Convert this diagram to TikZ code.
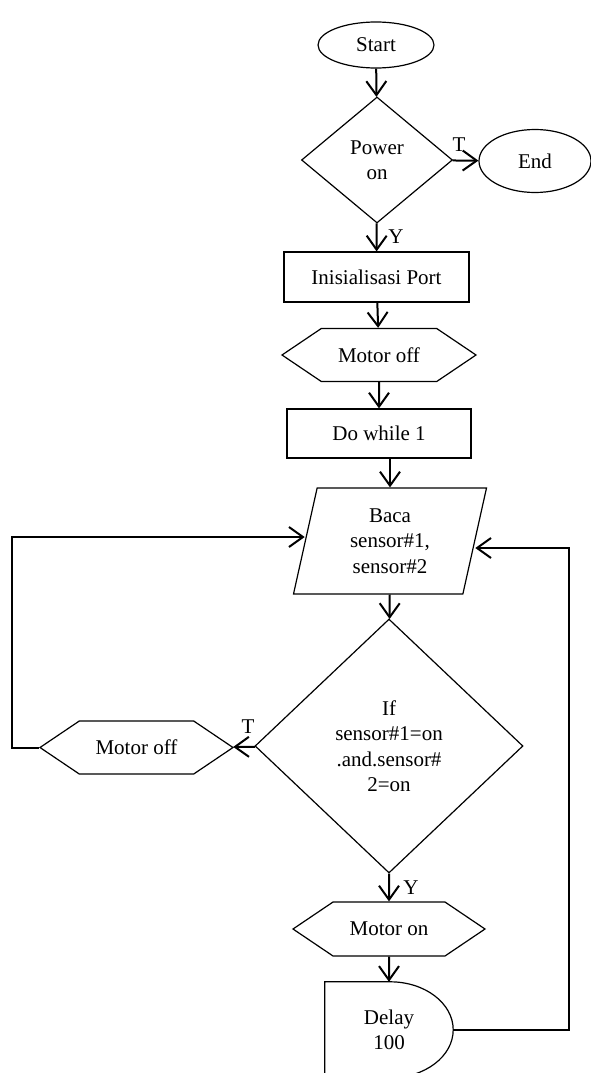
\documentclass[tikz,border=0pt]{standalone}
\usepackage{fontspec}
\setmainfont{Liberation Serif}
\usepackage{tikz}
\usetikzlibrary{shapes, shapes.geometric, shapes.symbols, arrows.meta, positioning}
\tikzstyle{term} = [ellipse, draw, line width=1.2pt, inner sep=0pt]
\tikzstyle{dec} = [diamond, draw, line width=1.2pt, inner sep=0pt, align=center]
\tikzstyle{proc} = [rectangle, draw, line width=1.2pt, inner sep=0pt]
\tikzstyle{prep} = [signal, signal to=west and east, signal pointer angle=68, draw, line width=1.2pt, inner sep=0pt]
\tikzstyle{io} = [trapezium, trapezium left angle=70, trapezium right angle=110, trapezium stretches body, draw, line width=1.2pt, inner sep=0pt, align=center]
\tikzstyle{line} = [draw, line width=2pt, -{Straight Barb[length=14pt,width=20pt]}]

\begin{document}
\begin{tikzpicture}[x=1pt, y=-1pt, font=\fontsize{21}{25.5}\selectfont]
			\useasboundingbox (0,0) rectangle (590,1073);
			\node [term, minimum width=116pt, minimum height=46pt] (start) at (376,45) {Start};
			\node [dec, minimum width=151pt, minimum height=126pt] (power) at (377,160) {Power\\on};
			\node [term, minimum width=112pt, minimum height=63pt] (end) at (535,161) {End};
			\node [proc, minimum width=185pt, minimum height=50pt] (init) at (376.5,277) {Inisialisasi Port};
			\node [prep, minimum width=194pt, minimum height=53pt] (mo1) at (379,355) {Motor off};
			\node [proc, minimum width=184pt, minimum height=49pt] (loop) at (379,433.5) {Do while 1};
			\node [io, minimum width=193pt, minimum height=106pt] (baca) at (390,541) {Baca\\sensor\#1,\\sensor\#2};
			\node [dec, minimum width=268pt, minimum height=254pt] (cond) at (389,746) {If\\sensor\#1=on\\.and.sensor\#\\2=on};
			\node [prep, minimum width=193pt, minimum height=53pt] (mo2) at (136.5,747.5) {Motor off};
			\node [prep, minimum width=192pt, minimum height=54pt] (mon) at (389,929) {Motor on};
			\node [minimum width=128pt, minimum height=96pt, inner sep=0pt, align=center] (delay) at (389,1030) {Delay\\100};
			\draw [line width=1.2pt] (delay.north west) -- ([xshift=-63pt]delay.north east)
				arc [start angle=90, end angle=-90, x radius=63pt, y radius=48pt] -- (delay.south west) -- cycle;

			\node (t1) at (459,145) {T};
			\node (y1) at (396,237) {Y};
			\node (t2) at (248,727) {T};
			\node (y2) at (411,888) {Y};

			\path [line] (start) -- (power);
			\path [line] (power) -- (end);
			\path [line] (power) -- (init);
			\path [line] (init) -- (mo1);
			\path [line] (mo1) -- (loop);
			\path [line] (baca.north |- loop.south) -- (baca.north);
			\path [line] (baca) -- (cond);
			\path [line] (cond) -- (mo2);
			\path [line] (cond) -- (mon);
			\path [line] (mon) -- (delay);
			\path [line] (mo2.west) -- (12,747.5) |- ([yshift=4pt]baca.west);
			\path [line] (delay.east) -- (569,1030) |- ([yshift=-7pt]baca.east);
		\end{tikzpicture}
\end{document}
